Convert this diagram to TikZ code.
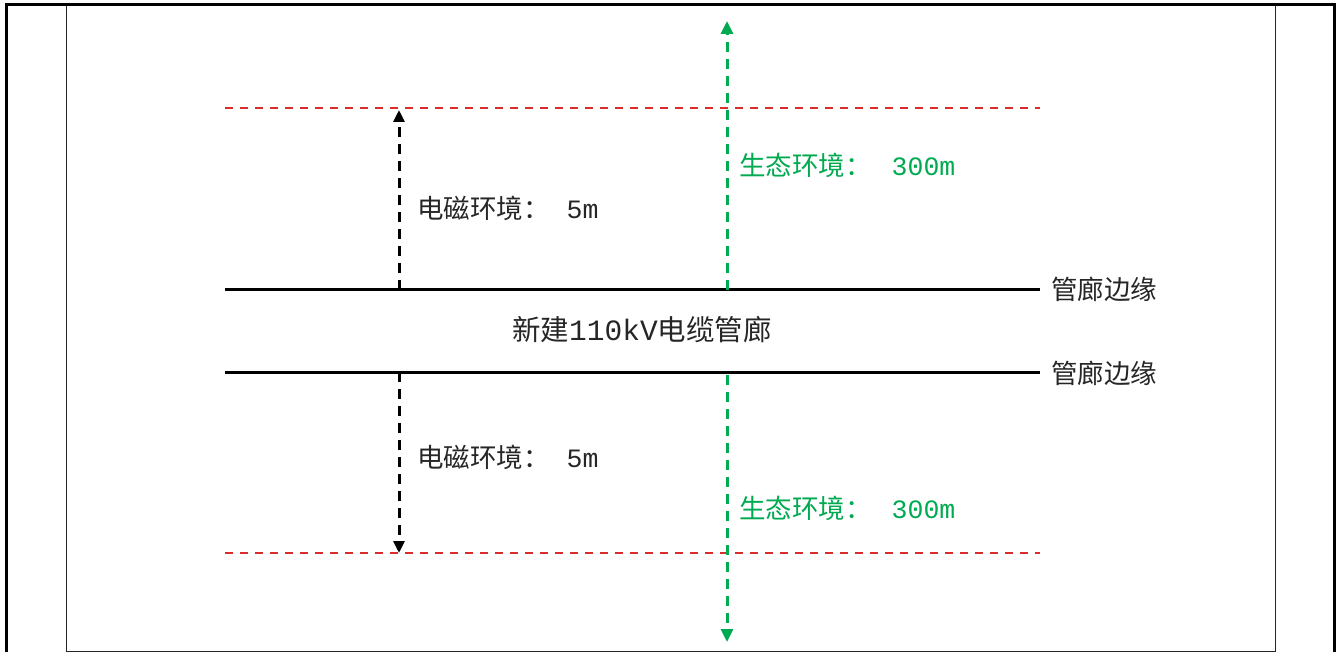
\documentclass[tikz,border=0pt]{standalone}
\usepackage{fontspec}
\setmainfont{Noto Sans CJK SC}
\newfontfamily\lat{Liberation Mono}
\usetikzlibrary{arrows.meta}
\definecolor{dred}{RGB}{215,45,45}
\definecolor{egreen}{RGB}{0,170,80}
\begin{document}
\begin{tikzpicture}[x=1pt,y=-1pt,
  redline/.style={dred,line width=2.2pt,dash pattern=on 8pt off 7pt},
  edge/.style={black,line width=3pt},
  emarrow/.style={black,line width=3pt,dash pattern=on 10pt off 7pt,-{Triangle[length=12pt,width=11pt]}},
  ecoarrow/.style={egreen,line width=3pt,dash pattern=on 10pt off 7pt,-{Triangle[length=13pt,width=12pt]}},
  lbl/.style={font=\fontsize{26.5}{30}\selectfont,anchor=west,inner sep=0pt},
  glbl/.style={lbl,text=egreen},
  every node/.style={inner sep=0pt}]
\useasboundingbox (0,0) rectangle (1339,652);
% frames
\draw[line width=3pt] (6,700) -- (6,5) -- (1334,5) -- (1334,700);
\draw[line width=0.8pt,black!85] (66,6) -- (66,651) -- (1275,651) -- (1275,6);
% named anchors
\coordinate (rt1) at (225,108);
\coordinate (rt2) at (1040,108);
\coordinate (rb1) at (225,553);
\coordinate (rb2) at (1040,553);
\coordinate (et1) at (225,290);
\coordinate (et2) at (1040,290);
\coordinate (eb1) at (225,372);
\coordinate (eb2) at (1040,372);
\coordinate (emA0) at (399,290);
\coordinate (emA1) at (399,110);
\coordinate (emB0) at (399,372);
\coordinate (emB1) at (399,553);
\coordinate (ecA0) at (727,290);
\coordinate (ecA1) at (727,21);
\coordinate (ecB0) at (727,375);
\coordinate (ecB1) at (727,642);
% lines
\draw[redline] (rt1) -- (rt2);
\draw[redline] (rb1) -- (rb2);
\draw[edge] (et1) -- (et2);
\draw[edge] (eb1) -- (eb2);
% arrows
\draw[emarrow] (emA0) -- (emA1);
\draw[emarrow] (emB0) -- (emB1);
\draw[ecoarrow] (ecA0) -- (ecA1);
\draw[ecoarrow] (ecB0) -- (ecB1);
% labels
\node[lbl,text=black!85] (edgeT) at (1051,289) {管廊边缘};
\node[lbl,text=black!85] (edgeB) at (1051,373) {管廊边缘};
\node[font=\fontsize{28.5}{32}\selectfont,text=black!85] (title) at (642,330) {新建{\lat\fontsize{29.5}{32}\selectfont 110kV}电缆管廊};
\node[lbl,text=black!85] (emT) at (417,208) {电磁环境：\hspace{17pt}{\lat 5m}};
\node[lbl,text=black!85] (emB) at (417,457) {电磁环境：\hspace{17pt}{\lat 5m}};
\node[glbl] (ecT) at (739,165) {生态环境：\hspace{20pt}{\lat 300m}};
\node[glbl] (ecB) at (739,508) {生态环境：\hspace{20pt}{\lat 300m}};
\end{tikzpicture}
\end{document}
